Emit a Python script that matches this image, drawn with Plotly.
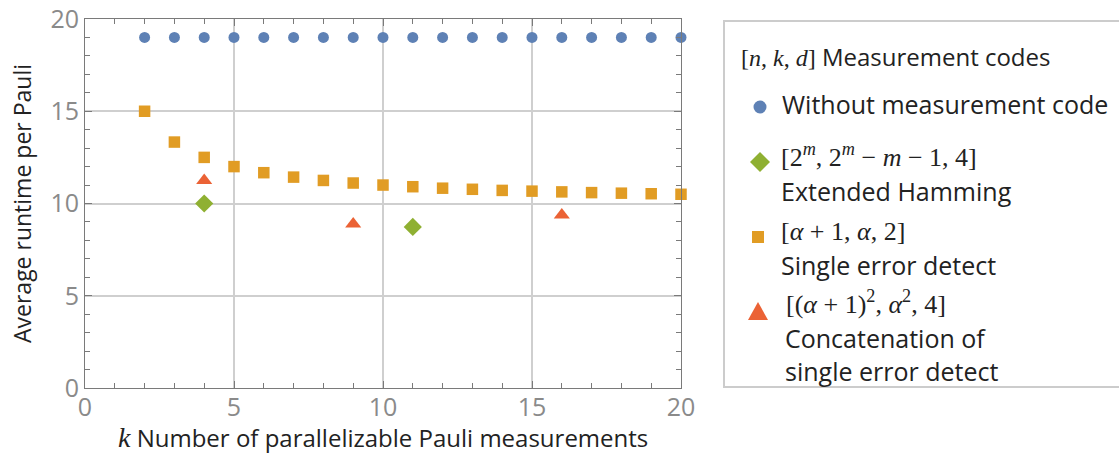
import plotly.graph_objects as go

# ---- data ----
k_all = list(range(2, 21))
without_code = [19] * 19
single_err = [15.0, 13.33, 12.5, 12.0, 11.67, 11.43, 11.25, 11.11, 11.0, 10.91,
              10.83, 10.77, 10.71, 10.67, 10.63, 10.59, 10.56, 10.53, 10.5]
hamming_k = [4, 11]
hamming = [10.0, 8.73]
concat_k = [4, 9, 16]
concat = [11.25, 8.89, 9.38]

x_title = "Number of parallelizable Pauli measurements"
y_title = "Average runtime per Pauli"
legend_title = "[<i>n</i>, <i>k</i>, <i>d</i>]"
legend_title_text = "Measurement codes"
label_circle = "Without measurement code"
label_diamond_math = "[2<sup><i>m</i></sup>, 2<sup><i>m</i></sup> − <i>m</i> − 1, 4]"
label_diamond = "Extended Hamming"
label_square_math = "[<i>α</i> + 1, <i>α</i>, 2]"
label_square = "Single error detect"
label_tri_math = "[(<i>α</i> + 1)<sup>2</sup>, <i>α</i><sup>2</sup>, 4]"
label_tri = ["Concatenation of", "single error detect"]

SERIF = "font-family:Liberation Serif"
def m(s):
    return f'<span style="{SERIF}">{s}</span>'

BLUE, GOLD, GREEN, RED = "#5E81B5", "#E19C24", "#8FB032", "#EB6235"
FONT = "Open Sans"
TXT = "#222222"

# plot-area geometry in pixels (for placing the legend panel)
L, R, T, B = 85, 681, 19, 388
W, H = 1119, 455
def px(x):
    return (x - L) / (R - L)
def py(y):
    return (B - y) / (B - T)

fig = go.Figure()
fig.add_trace(go.Scatter(x=k_all, y=without_code, mode="markers", name=label_circle,
                         cliponaxis=False, showlegend=False,
                         marker=dict(symbol="circle", size=11, color=BLUE)))
fig.add_trace(go.Scatter(x=hamming_k, y=hamming, mode="markers", name=label_diamond,
                         cliponaxis=False, showlegend=False,
                         marker=dict(symbol="diamond", size=14, color=GREEN)))
fig.add_trace(go.Scatter(x=k_all, y=single_err, mode="markers", name=label_square,
                         cliponaxis=False, showlegend=False,
                         marker=dict(symbol="square", size=11.5, color=GOLD)))
fig.add_trace(go.Scatter(x=concat_k, y=concat, mode="markers", name=label_tri[0],
                         cliponaxis=False, showlegend=False,
                         marker=dict(symbol="triangle-up", size=14, color=RED)))

axis_common = dict(
    range=[0, 20], dtick=5, tick0=0,
    showline=True, linecolor="#7a7a7a", linewidth=1, mirror="allticks",
    ticks="inside", ticklen=7, tickcolor="#7a7a7a",
    showgrid=True, gridcolor="#cfcfcf", gridwidth=2,
    zeroline=False,
    tickfont=dict(family=FONT, size=25, color="#8a8a8a"),
    minor=dict(dtick=1, tick0=0, ticks="inside", ticklen=5, tickcolor="#7a7a7a",
               tickwidth=1, showgrid=False),
)

# legend panel (drawn as annotations + shapes)
shapes = [
    dict(type="rect", xref="paper", yref="paper", x0=px(724), x1=px(1130),
         y0=py(387), y1=py(21), line=dict(color="#cccccc", width=2), fillcolor="white",
         layer="below"),
    dict(type="circle", xref="paper", yref="paper", xsizemode="pixel", ysizemode="pixel",
         xanchor=px(760), yanchor=py(107), x0=-6.5, x1=6.5, y0=-6.5, y1=6.5,
         fillcolor=BLUE, line=dict(width=0)),
    dict(type="path", xref="paper", yref="paper", xsizemode="pixel", ysizemode="pixel",
         xanchor=px(760), yanchor=py(162), path="M0,10 L10,0 L0,-10 L-10,0 Z",
         fillcolor=GREEN, line=dict(width=0)),
    dict(type="rect", xref="paper", yref="paper", xsizemode="pixel", ysizemode="pixel",
         xanchor=px(758), yanchor=py(237), x0=-6, x1=6, y0=-6, y1=6,
         fillcolor=GOLD, line=dict(width=0)),
    dict(type="path", xref="paper", yref="paper", xsizemode="pixel", ysizemode="pixel",
         xanchor=px(758), yanchor=py(312), path="M-10,-8 L10,-8 L0,10 Z",
         fillcolor=RED, line=dict(width=0)),
]

def ann(text, x, y, size=25, yanchor="middle", xanchor="left"):
    return dict(text=text, xref="paper", yref="paper", x=px(x), y=py(y),
                xanchor=xanchor, yanchor=yanchor, align="left", showarrow=False,
                borderpad=0, font=dict(family=FONT, size=size, color=TXT))

annotations = [
    ann(m(legend_title) + " " + legend_title_text, 740, 56, 24),
    ann(label_circle, 781, 104),
    ann(m(label_diamond_math), 780, 173, 26, "bottom"),
    ann(label_diamond, 780, 173, 25, "top"),
    ann(m(label_square_math), 780, 246.5, 26, "bottom"),
    ann(label_square, 780, 246.5, 25, "top"),
    ann(m(label_tri_math), 785, 319.5, 26, "bottom"),
    ann(label_tri[0] + "<br>" + label_tri[1], 784, 319.5, 25, "top"),
    # x-axis title
    ann(f'<span style="{SERIF};font-size:28px"><i>k</i></span> ' + x_title,
        (L + R) / 2, 437, 24, "middle", "center"),
]

fig.update_layout(
    width=W, height=H,
    margin=dict(l=L, r=W - R, t=T, b=H - B, autoexpand=False),
    paper_bgcolor="white", plot_bgcolor="white",
    font=dict(family=FONT, color=TXT),
    showlegend=False,
    xaxis=dict(**axis_common, ticklabelstandoff=-3),
    yaxis=dict(**axis_common,
               title=dict(text=y_title,
                          font=dict(family=FONT, size=23, color=TXT), standoff=12)),
    shapes=shapes,
    annotations=annotations,
)

fig.write_html("out.html", config={"displayModeBar": False},
               post_script="document.body.style.margin='0px';")
